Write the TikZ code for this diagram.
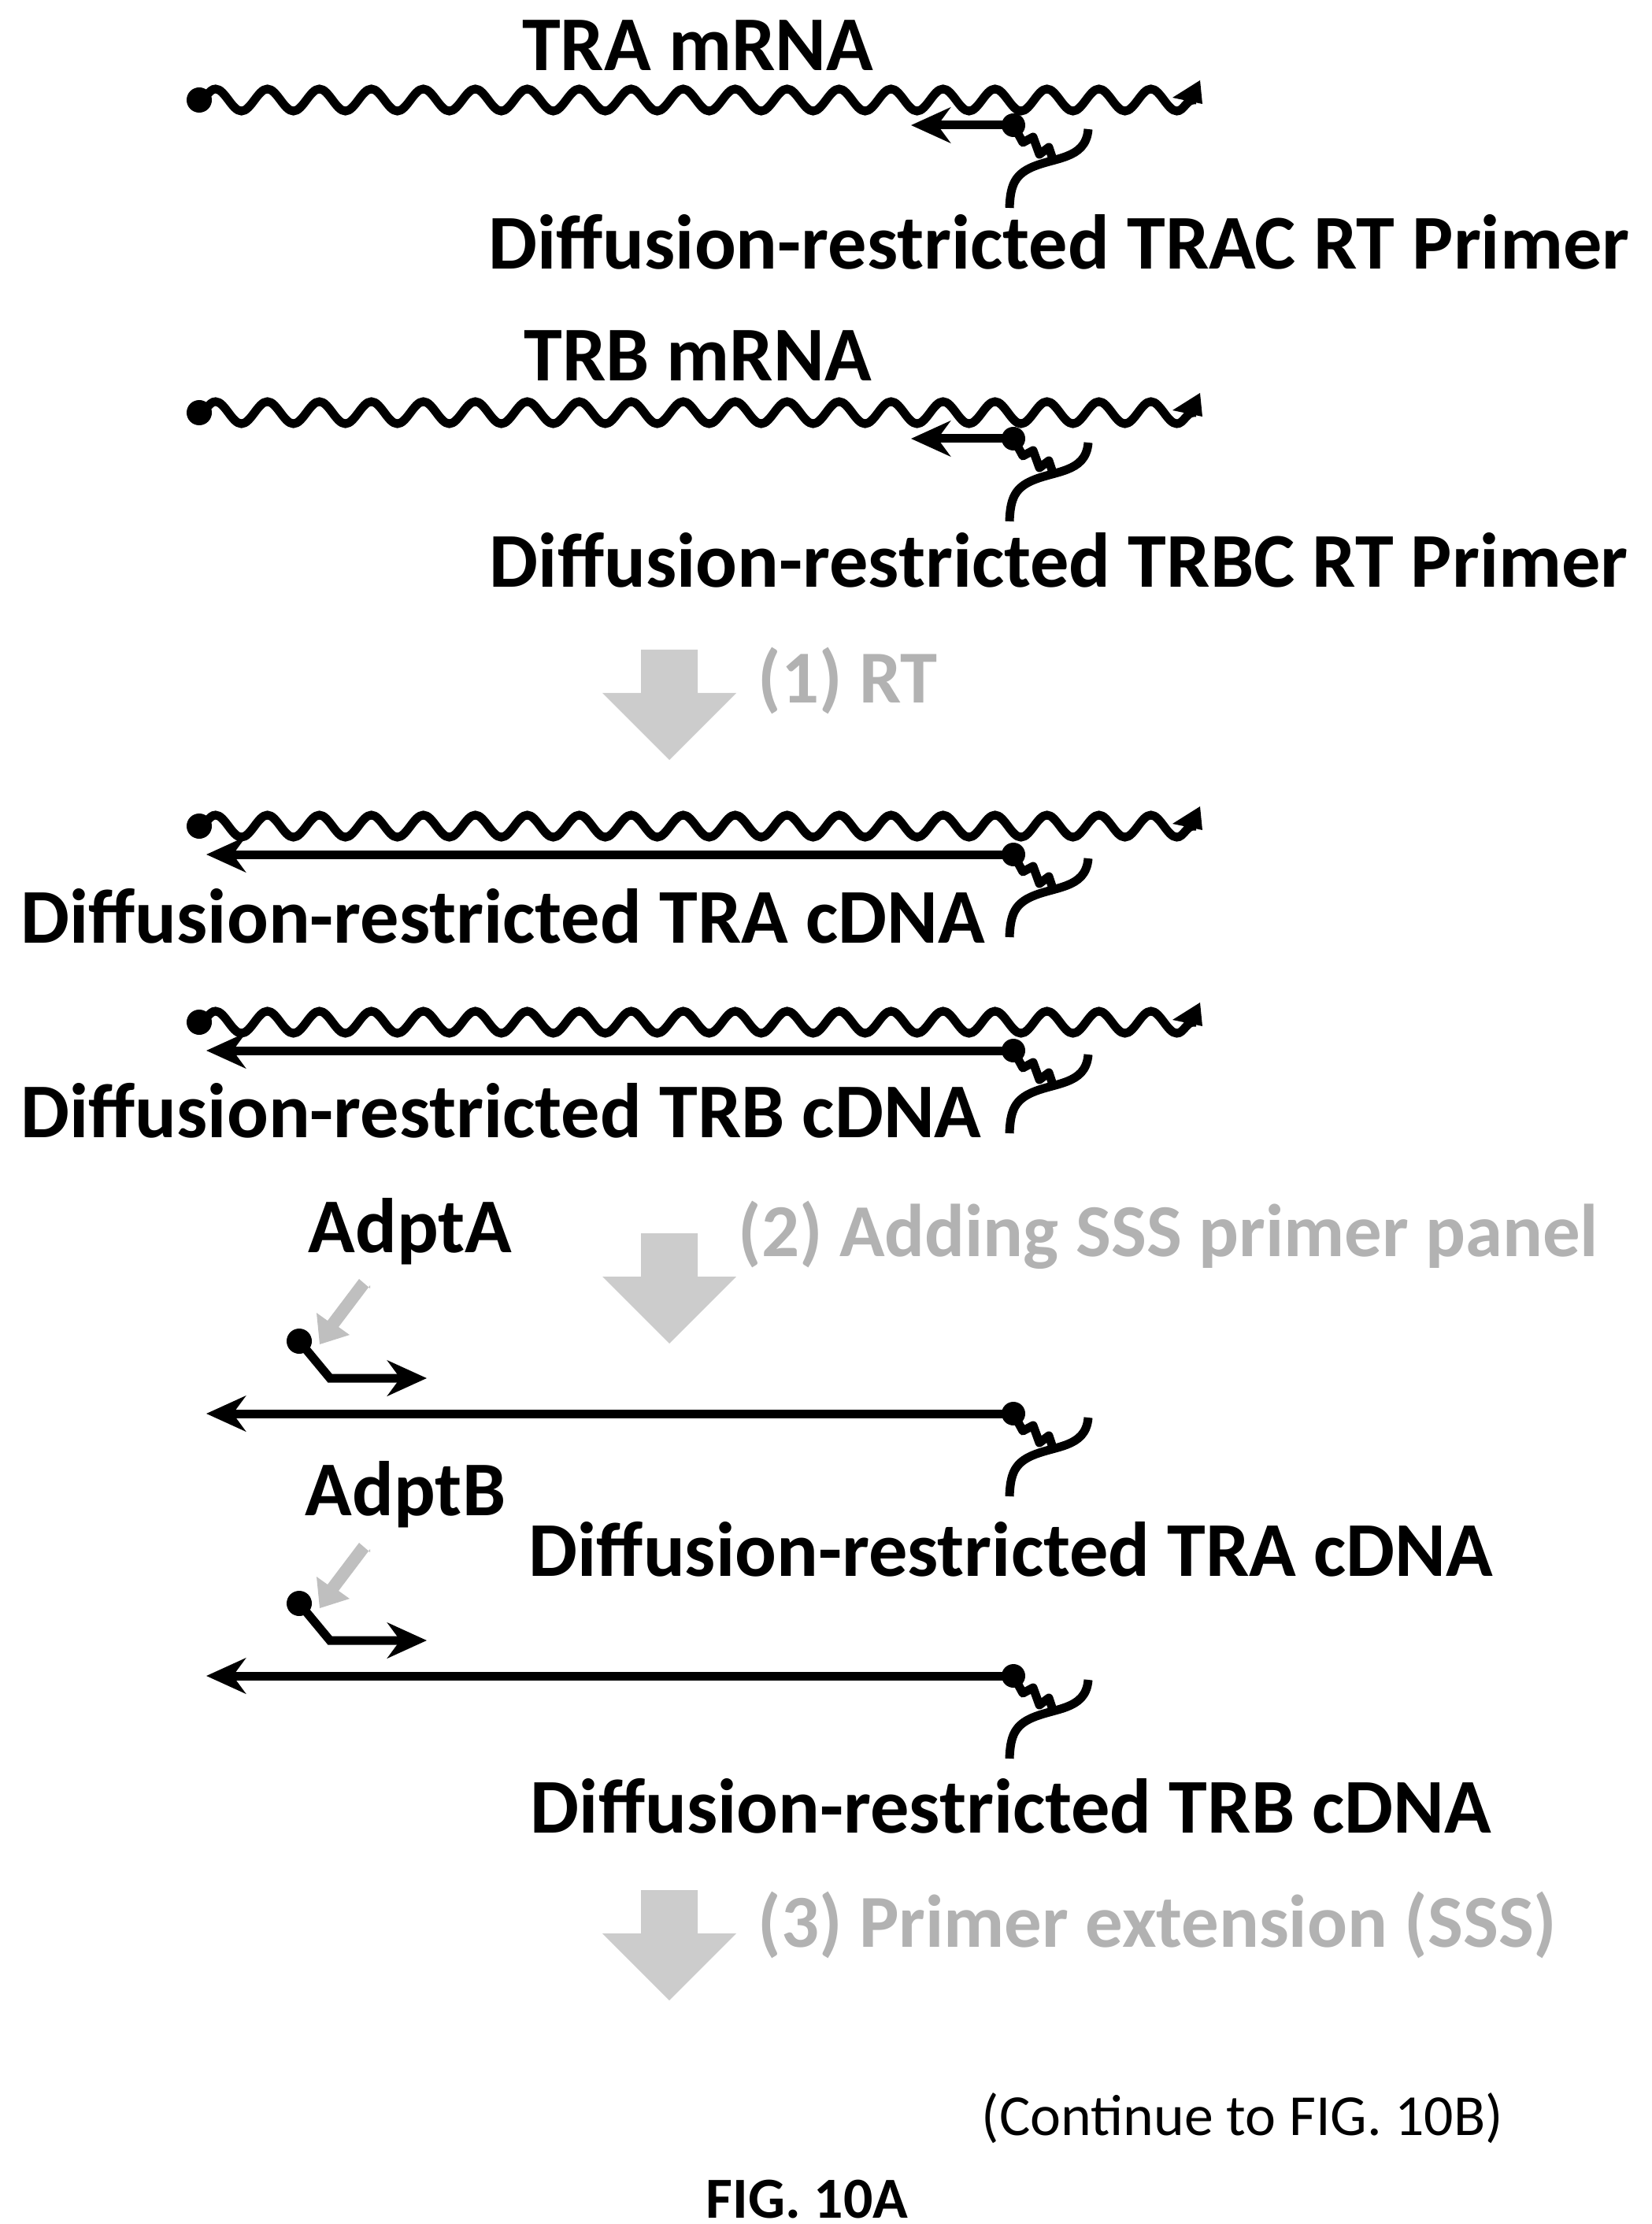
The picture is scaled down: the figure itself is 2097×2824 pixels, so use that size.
\documentclass[tikz,border=0pt]{standalone}
\usepackage{fontspec}
\setmainfont{Carlito}
\usetikzlibrary{decorations.pathmorphing,arrows.meta,shapes.arrows,calc}
\tikzset{
  strand/.style={line width=1.1mm},
  rna/.style={strand,decorate,decoration={snake,segment length=6.6mm,amplitude=1.4mm}},
  dna/.style={strand,-{Stealth[length=5mm,width=4.5mm]}},
  lbl/.style={font=\bfseries\fontsize{28}{32}\selectfont},
  steplbl/.style={font=\bfseries\fontsize{27}{31}\selectfont,text=gray!60},
  bigarrow/.style={single arrow,draw=none,fill=gray!40,rotate=-90,minimum height=14mm,
    minimum width=17mm,single arrow head extend=3.5mm,inner sep=2.5mm},
  smallarrow/.style={fill=gray!50,draw=none},
}
\newcommand{\primerend}[2]{%
  \begin{scope}[shift={(#1,#2)}]
    \draw[strand,line join=round] (0,0) -- (12,22) -- (25,15) -- (33,37) -- (45,28) -- (50,43);
    \draw[strand] (95,5) .. controls (92,45) and (50,40) .. (20,55) .. controls (0,65) and (-4,80) .. (-5,105);
    \fill (0,0) circle (1.5mm);
  \end{scope}}
\newcommand{\mrna}[2]{%
  \draw[rna] (#1) -- (#2);
  \fill (#1) circle (1.6mm);
  \fill ($(#2)+(-30,-3)$) -- ($(#2)+(5,-25)$) -- ($(#2)+(8,5)$) -- cycle;}
\newcommand{\adapter}[2]{%
  \fill (#1,#2) circle (1.6mm);
  \draw[strand,-{Stealth[length=5mm,width=4.5mm]}] (#1,#2) -- ++(39,47) -- ++(123,0);}
\newcommand{\pointer}[2]{%
  \fill[smallarrow] (#1,#2) -- ++(-14,-12) -- ++(-40,53) -- ++(-14,-10) -- ++(4,40)
    -- ++(38,-12) -- ++(-14,-10) -- ++(40,-53) -- cycle;}
\begin{document}
\begin{tikzpicture}[x=0.1mm,y=-0.1mm]
  \useasboundingbox (0,0) rectangle (2097,2824);
  % mRNAs with RT primers
  \node[lbl] (traM) at (886,58) {TRA mRNA};
  \coordinate (traL) at (253,127); \coordinate (traR) at (1519,127);
  \mrna{traL}{traR}
  \coordinate (traP) at (1287,159); \coordinate (traPe) at (1157,159);
  \draw[dna] (traP) -- (traPe);
  \primerend{1287}{159}
  \node[lbl] (tracP) at (1345,307) {Diffusion-restricted TRAC RT Primer};

  \node[lbl] (trbM) at (886,452) {TRB mRNA};
  \coordinate (trbL) at (253,524); \coordinate (trbR) at (1519,524);
  \mrna{trbL}{trbR}
  \coordinate (trbP) at (1287,557); \coordinate (trbPe) at (1157,557);
  \draw[dna] (trbP) -- (trbPe);
  \primerend{1287}{557}
  \node[lbl] (trbcP) at (1345,711) {Diffusion-restricted TRBC RT Primer};

  % step 1
  \node[bigarrow] (s1) at (850,877) {};
  \node[steplbl,anchor=west] (s1t) at (950,864) {(1) RT};

  % cDNAs
  \coordinate (a1L) at (253,1049); \coordinate (a1R) at (1519,1049);
  \mrna{a1L}{a1R}
  \coordinate (a1P) at (1287,1085); \coordinate (a1E) at (262,1085);
  \draw[dna] (a1P) -- (a1E);
  \primerend{1287}{1085}
  \node[lbl,anchor=west] (a1t) at (14,1163) {Diffusion-restricted TRA cDNA};

  \coordinate (b1L) at (253,1298); \coordinate (b1R) at (1519,1298);
  \mrna{b1L}{b1R}
  \coordinate (b1P) at (1287,1334); \coordinate (b1E) at (262,1334);
  \draw[dna] (b1P) -- (b1E);
  \primerend{1287}{1334}
  \node[lbl,anchor=west] (b1t) at (14,1410) {Diffusion-restricted TRB cDNA};

  % step 2
  \node[bigarrow] (s2) at (850,1618) {};
  \node[steplbl,anchor=west] (s2t) at (925,1568) {(2) Adding SSS primer panel};

  \node[lbl] (adA) at (521,1564) {AdptA};
  \pointer{470}{1636}
  \adapter{380}{1703}
  \coordinate (a2P) at (1287,1795); \coordinate (a2E) at (262,1795);
  \draw[dna] (a2P) -- (a2E);
  \primerend{1287}{1795}
  \node[lbl] (adB) at (515,1898) {AdptB};
  \node[lbl] (a2t) at (1284,1967) {Diffusion-restricted TRA cDNA};
  \pointer{470}{1971}
  \adapter{380}{2036}
  \coordinate (b2P) at (1287,2128); \coordinate (b2E) at (262,2128);
  \draw[dna] (b2P) -- (b2E);
  \primerend{1287}{2128}
  \node[lbl] (b2t) at (1284,2293) {Diffusion-restricted TRB cDNA};

  % step 3
  \node[bigarrow] (s3) at (850,2452) {};
  \node[steplbl,anchor=west] (s3t) at (950,2444) {(3) Primer extension (SSS)};

  \node[font=\fontsize{21}{25}\selectfont] (cont) at (1578,2690) {(Continue to FIG. 10B)};
  \node[font=\bfseries\fontsize{21}{25}\selectfont] (fig) at (1025,2793) {FIG. 10A};
\end{tikzpicture}
\end{document}
